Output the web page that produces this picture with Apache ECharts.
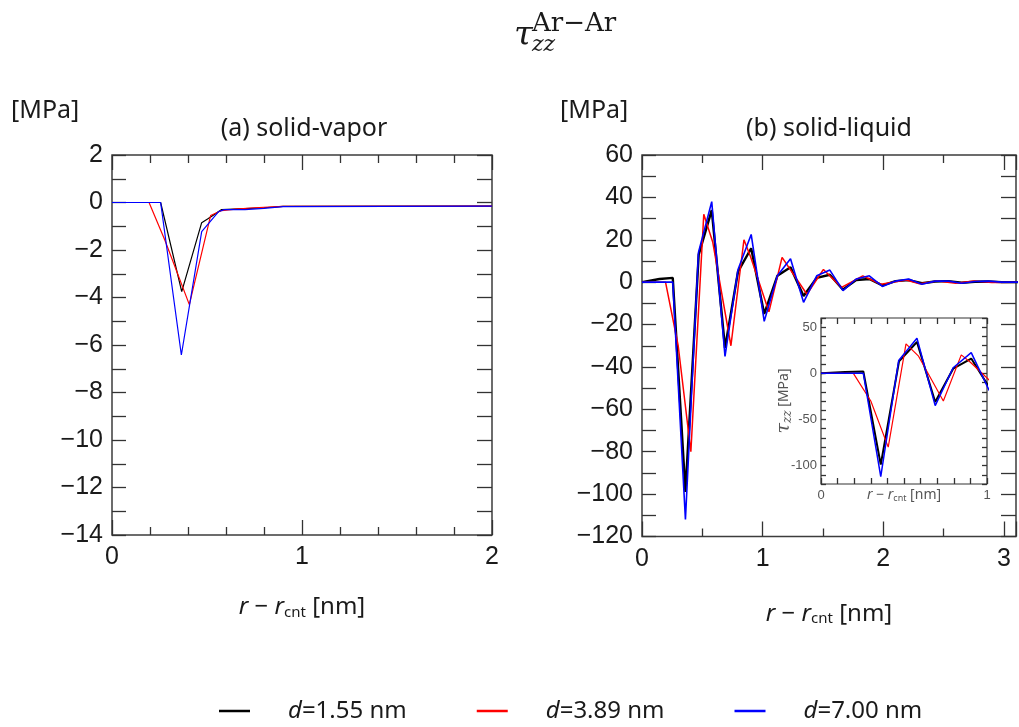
<!DOCTYPE html>
<html>
<head>
<meta charset="utf-8">
<script src="https://cdn.jsdelivr.net/npm/echarts@6/dist/echarts.min.js"></script>
<style>html,body{margin:0;padding:0;background:#fff}#c{width:1019px;height:727px}</style>
</head>
<body>
<div id="c"></div>
<script>
// ---- data: panel (a) solid-vapor ----
const aBlackX = [0, 0.256, 0.367, 0.472, 0.507, 0.577, 0.70, 0.80, 0.90, 2.0];
const aBlackY = [0, 0, -3.75, -0.85, -0.67, -0.30, -0.26, -0.22, -0.16, -0.15];
const aRedX   = [0, 0.195, 0.279, 0.407, 0.519, 0.577, 0.65, 0.75, 0.90, 2.0];
const aRedY   = [0, 0, -1.6, -4.3, -0.55, -0.34, -0.28, -0.22, -0.16, -0.15];
const aBlueX  = [0, 0.256, 0.365, 0.472, 0.56, 0.59, 0.70, 0.80, 0.90, 2.0];
const aBlueY  = [0, 0, -6.42, -1.23, -0.39, -0.30, -0.30, -0.25, -0.17, -0.15];

// ---- data: panel (b) solid-liquid (also used by inset) ----
const bBlackX = [0, 0.145, 0.255, 0.36, 0.47, 0.578, 0.688, 0.796, 0.905, 1.013, 1.122, 1.231, 1.339, 1.448, 1.557, 1.666, 1.775, 1.884, 1.993, 2.102, 2.211, 2.32, 2.43, 2.54, 2.65, 2.76, 2.87, 2.98, 3.2];
const bBlackY = [0, 1.5, 2, -99, 13, 34, -31, 5, 16, -15, 3, 7, -6.5, 2, 3.5, -3.5, 1, 1.5, -1.5, 0.5, 1, -0.5, 0.3, 0.5, -0.3, 0.2, 0.3, 0, 0];
const bRedX   = [0, 0.195, 0.30, 0.405, 0.512, 0.586, 0.737, 0.845, 0.90, 1.052, 1.161, 1.367, 1.504, 1.654, 1.83, 1.98, 2.19, 2.3, 2.45, 2.6, 2.75, 2.9, 3.2];
const bRedY   = [0, 0, -30, -80, 32, 19, -30, 20, 12, -14, 11.7, -5.7, 6, -2.5, 3, -1, 1, -0.8, 0.5, -0.5, 0.5, -0.2, 0];
const bBlueX  = [0, 0.255, 0.36, 0.468, 0.578, 0.688, 0.796, 0.905, 1.013, 1.122, 1.231, 1.339, 1.448, 1.557, 1.666, 1.775, 1.884, 1.993, 2.102, 2.211, 2.32, 2.43, 2.54, 2.65, 2.76, 2.87, 2.98, 3.2];
const bBlueY  = [0, 0, -112, 14, 38, -35, 6, 22.5, -18.5, 3, 11, -9.5, 3, 5.7, -4, 1.5, 3, -2, 0.5, 1.5, -1, 0.5, 0.5, -0.5, 0.3, 0.5, 0, 0];

// ---- labels ----
const seriesNames = ['d=1.55 nm', 'd=3.89 nm', 'd=7.00 nm'];
const seriesColors = ['#000000', '#ff0000', '#0000ff'];
const panelTitles = ['(a) solid-vapor', '(b) solid-liquid'];
const unitLabel = '[MPa]';

const zip = (xs, ys) => xs.map((x, i) => [x, ys[i]]);
const SANS = '"Noto Sans", "Open Sans", sans-serif';
const TICK = '"Liberation Sans", Arial, sans-serif';
const SERIF = '"DejaVu Serif", serif';
const minus = v => String(v).replace('-', '\u2212');

const chart = echarts.init(document.getElementById('c'), null, {renderer: 'canvas'});

const tickLine = {color: '#333', width: 1.3};
function mkAx(grid, min, max, interval, len, minorSplit, minorLen, pos, labels, extra) {
  return Object.assign({
    type: 'value', gridIndex: grid, min, max, interval, position: pos,
    axisLine: {show: false, onZero: false},
    splitLine: {show: false},
    nameMoveOverlap: false,
    axisTick: {show: true, inside: true, length: len, lineStyle: tickLine},
    minorTick: {show: minorSplit > 0, splitNumber: minorSplit || 5, length: minorLen, lineStyle: tickLine},
    axisLabel: {show: labels}
  }, extra || {});
}

const mainLabel = {fontFamily: TICK, fontSize: 25, color: '#1a1a1a'};
const axisNameStyle = {
  fontFamily: SANS, fontSize: 24, color: '#1a1a1a',
  rich: {
    i: {fontFamily: SANS, fontSize: 24, fontStyle: 'italic', color: '#1a1a1a'},
    n: {fontFamily: SANS, fontSize: 24, color: '#1a1a1a'},
    s: {fontFamily: SANS, fontSize: 15, color: '#1a1a1a', padding: [10, 0, 0, 0]}
  }
};
const axisNameText = '{i|r}{n| \u2212 }{i|r}{s|cnt}{n| [nm]}';

const insetLabel = {fontFamily: TICK, fontSize: 13, color: '#555', margin: 5};
const txt = (x, y, text, font, align) => ({type: 'text', x, y, z: 10,
  style: {text, font, fill: '#1a1a1a', align: align || 'left', verticalAlign: 'middle', textAlign: align || 'left', textVerticalAlign: 'middle'}});

const option = {
  animation: false,
  backgroundColor: '#ffffff',
  grid: [
    {left: 112, top: 155, width: 380, height: 380, show: true, borderColor: '#3c3c3c', borderWidth: 1.5, backgroundColor: '#fff'},
    {left: 642, top: 155, width: 377.5, height: 381.5, show: true, borderColor: '#3c3c3c', borderWidth: 1.5, backgroundColor: '#fff'},
    {left: 821, top: 318, width: 166, height: 166, show: true, borderColor: '#333', borderWidth: 1.2, backgroundColor: '#fff', z: 5}
  ],
  xAxis: [
    mkAx(0, 0, 2, 1, 15, 5, 8, 'bottom', true, {
      axisLabel: Object.assign({margin: 10}, mainLabel),
      name: axisNameText, nameLocation: 'middle', nameGap: 60, nameTextStyle: axisNameStyle
    }),
    mkAx(0, 0, 2, 1, 15, 5, 8, 'top', false),
    mkAx(1, 0, 3.1, 1, 15, 2, 8, 'bottom', true, {
      axisLabel: Object.assign({margin: 10, formatter: v => Number.isInteger(v) ? String(v) : ''}, mainLabel),
      name: axisNameText, nameLocation: 'middle', nameGap: 65, nameTextStyle: axisNameStyle
    }),
    mkAx(1, 0, 3.1, 1, 15, 2, 8, 'top', false),
    mkAx(2, 0, 1, 1, 6, 10, 6, 'bottom', true, {
      z: 6,
      axisLabel: insetLabel,
      name: '{i|r}{n| \u2212 }{i|r}{s|cnt}{n| [nm]}', nameLocation: 'middle', nameGap: 4,
      nameTextStyle: {
        fontFamily: SANS, fontSize: 14, color: '#555',
        rich: {
          i: {fontFamily: SANS, fontSize: 14, fontStyle: 'italic', color: '#555'},
          n: {fontFamily: SANS, fontSize: 14, color: '#555'},
          s: {fontFamily: SANS, fontSize: 9, color: '#555', padding: [6, 0, 0, 0]}
        }
      }
    }),
    mkAx(2, 0, 1, 1, 6, 10, 6, 'top', false, {z: 6})
  ],
  yAxis: [
    mkAx(0, -14, 2, 2, 14, 2, 14, 'left', true, {
      axisLabel: Object.assign({margin: 9, formatter: v => minus(v)}, mainLabel)
    }),
    mkAx(0, -14, 2, 2, 15, 2, 15, 'right', false),
    mkAx(1, -120, 60, 20, 14, 2, 14, 'left', true, {
      axisLabel: Object.assign({margin: 9, formatter: v => minus(v)}, mainLabel)
    }),
    mkAx(1, -120, 60, 20, 15, 2, 15, 'right', false),
    mkAx(2, -120, 60, 10, 5, 0, 5, 'left', true, {
      z: 6,
      axisLabel: Object.assign({formatter: v => (v % 50 === 0 ? String(v) : '')}, insetLabel, {margin: 4}),
      name: '{t|\u03c4}{s|zz}{n| [MPa]}', nameLocation: 'middle', nameGap: 27, nameRotate: 90,
      nameTextStyle: {
        fontFamily: SANS, fontSize: 14, color: '#555',
        rich: {
          t: {fontFamily: SERIF, fontSize: 19, fontStyle: 'italic', color: '#555'},
          s: {fontFamily: SERIF, fontSize: 12, fontStyle: 'italic', color: '#555', padding: [8, 0, 0, 0]},
          n: {fontFamily: SANS, fontSize: 14, color: '#555'}
        }
      }
    }),
    mkAx(2, -120, 60, 10, 5, 0, 5, 'right', false, {z: 6})
  ],
  legend: {
    left: 219, top: 699, padding: 0, icon: 'rect', itemWidth: 31, itemHeight: 2.5, itemGap: 70,
    selectedMode: false,
    data: seriesNames,
    formatter: n => '{i|d}{n|' + n.slice(1) + '}',
    textStyle: {
      fontFamily: SANS, fontSize: 24, color: '#1a1a1a',
      rich: {
        i: {fontFamily: SANS, fontSize: 24, fontStyle: 'italic', color: '#1a1a1a', padding: [0, 0, 0, 33]},
        n: {fontFamily: SANS, fontSize: 24, color: '#1a1a1a'}
      }
    }
  },
  graphic: [
    txt(514, 36, '\u03c4', 'italic 34px ' + SERIF),
    txt(532, 45, 'zz', 'italic 22px ' + SERIF),
    txt(532, 24, 'Ar\u2212Ar', '26px ' + SERIF),
    txt(11, 111, unitLabel, '25px ' + SANS),
    txt(560, 111, unitLabel, '25px ' + SANS),
    txt(304, 129, panelTitles[0], '25px ' + SANS, 'center'),
    txt(829, 129, panelTitles[1], '25px ' + SANS, 'center')
  ],
  series: []
};

const aData = [zip(aBlackX, aBlackY), zip(aRedX, aRedY), zip(aBlueX, aBlueY)];
const bData = [zip(bBlackX, bBlackY), zip(bRedX, bRedY), zip(bBlueX, bBlueY)];
const aWidths = [1.2, 1.2, 1.2];
const bWidths = [2.4, 1.5, 1.6];
const iWidths = [2.0, 1.2, 1.5];
for (let k = 0; k < 3; k++) {
  const base = {type: 'line', name: seriesNames[k], showSymbol: false, symbol: 'none', clip: true,
    itemStyle: {color: seriesColors[k]}, emphasis: {disabled: true}};
  option.series.push(Object.assign({}, base, {xAxisIndex: 0, yAxisIndex: 0, data: aData[k], z: 2 + k * 0.1,
    lineStyle: {color: seriesColors[k], width: aWidths[k]}}));
  option.series.push(Object.assign({}, base, {xAxisIndex: 2, yAxisIndex: 2, data: bData[k], z: 2 + k * 0.1,
    lineStyle: {color: seriesColors[k], width: bWidths[k]}}));
  option.series.push(Object.assign({}, base, {xAxisIndex: 4, yAxisIndex: 4, data: bData[k], z: 6 + k * 0.1,
    lineStyle: {color: seriesColors[k], width: iWidths[k]}}));
}
chart.setOption(option);
</script>
</body>
</html>
